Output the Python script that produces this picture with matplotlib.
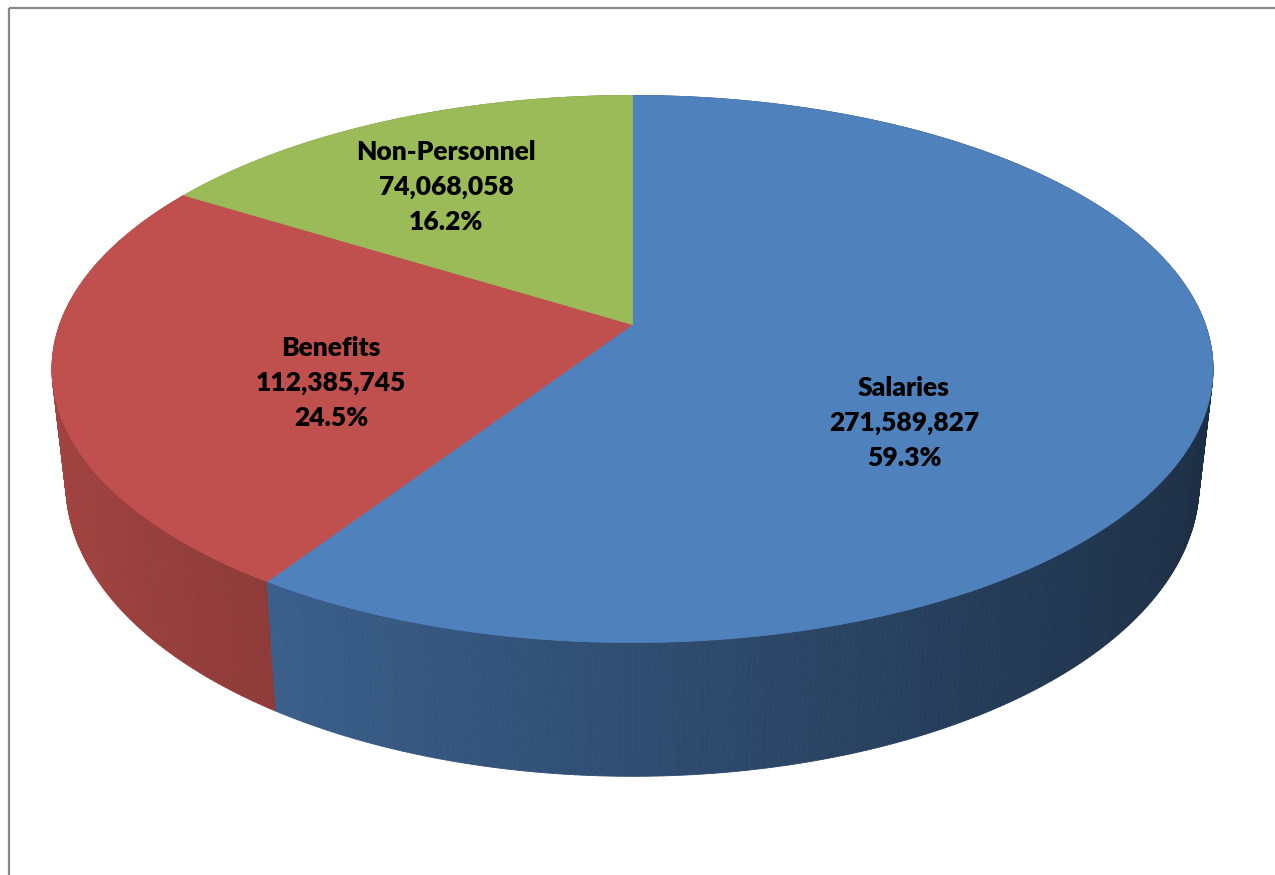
import numpy as np
import matplotlib
matplotlib.use("Agg")
import matplotlib.pyplot as plt
from matplotlib.collections import PolyCollection
from matplotlib.patches import Polygon
from matplotlib.colors import to_rgb

# ---- data ----
categories = ["Salaries", "Benefits", "Non-Personnel"]
values = [271589827, 112385745, 74068058]
colors = ["#4F81BD", "#C0504D", "#9BBB59"]

# ---- geometry / style (pixel space) ----
W, H = 1275, 875
CX, CY = 632.5, 324.5       # projected centre of top face
A, B = 572.8, 266.3         # projective ellipse parameters
K = 0.1627                  # perspective factor
DEPTH = 112.0               # thickness of the pie
BOTTOM_SCALE = 0.976        # bottom rim is slightly narrower (perspective)
label_xy = [(904, 423), (331, 383), (446, 187)]
line_gap = 35

fig = plt.figure(figsize=(W / 100, H / 100), dpi=100)
ax = fig.add_axes([0, 0, 1, 1])
ax.set_xlim(0, W)
ax.set_ylim(H, 0)
ax.axis("off")


def proj(theta_deg, r=1.0):
    t = np.radians(theta_deg)
    p = r * np.sin(t)
    q = -r * np.cos(t)
    w = 1 - K * q
    return CX + A * p / w, CY + B * q / w, w


def bottom(x, y, w):
    return CX + (x - CX) * BOTTOM_SCALE, y + DEPTH / w


total = float(sum(values))
fracs = [v / total for v in values]
bounds = np.concatenate([[0], np.cumsum(fracs) * 360.0])

# side walls (painter's order by depth)
quads, qcols, qdepth = [], [], []
for i, c in enumerate(colors):
    a0, a1 = bounds[i], bounds[i + 1]
    n = max(int((a1 - a0) / 0.5), 2)
    ts = np.linspace(a0, a1, n + 1)
    base = np.array(to_rgb(c))
    for t0, t1 in zip(ts[:-1], ts[1:]):
        x0, y0, w0 = proj(t0)
        x1, y1, w1 = proj(t1)
        quad = [(x0, y0), (x1, y1), bottom(x1, y1, w1), bottom(x0, y0, w0)]
        tm = np.radians(0.5 * (t0 + t1))
        shade = 0.60 - 0.25 * np.sin(tm)
        quads.append(quad)
        qcols.append(np.clip(base * shade, 0, 1))
        qdepth.append(-np.cos(tm))
order = np.argsort(qdepth)
pc = PolyCollection([quads[j] for j in order],
                    facecolors=[qcols[j] for j in order],
                    edgecolors=[qcols[j] for j in order],
                    linewidths=0.6, antialiased=True, zorder=2)
ax.add_collection(pc)

# top face
for i, c in enumerate(colors):
    a0, a1 = bounds[i], bounds[i + 1]
    ts = np.linspace(a0, a1, 300)
    xs, ys, _ = proj(ts)
    pts = [(CX, CY)] + list(zip(xs, ys))
    ax.add_patch(Polygon(pts, closed=True, facecolor=c, edgecolor=c,
                         linewidth=0.6, zorder=3))

# labels
for (lx, ly), name, v, f in zip(label_xy, categories, values, fracs):
    lines = [name, f"{v:,}", f"{f * 100:.1f}%"]
    for k, s in enumerate(lines):
        ax.text(lx, ly + (k - 1) * line_gap, s, ha="center", va="center",
                fontsize=19, fontweight="heavy", family=["Lato", "DejaVu Sans"],
                color="#000000", zorder=5)

# chart border (left and top visible)
ax.plot([9, 9], [H + 5, 8], color="#878787", lw=1.6, solid_capstyle="butt", zorder=6)
ax.plot([9, W + 5], [8, 8], color="#878787", lw=1.6, solid_capstyle="butt", zorder=6)

fig.savefig("out.png", dpi=100)
